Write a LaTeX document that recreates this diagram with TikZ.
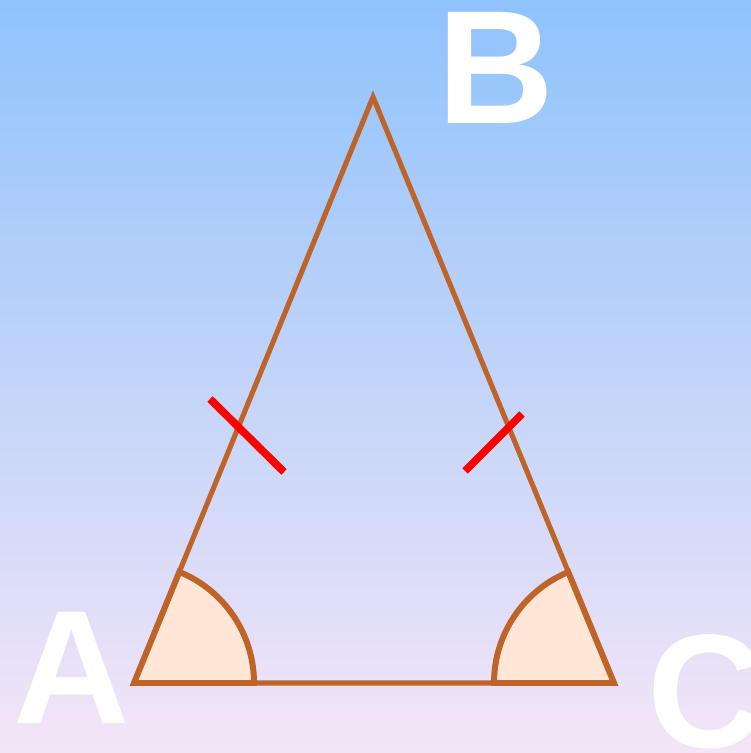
\documentclass[tikz,border=0pt]{standalone}
\usepackage{fontspec}
\usepackage{tikz}
\newfontfamily\labelfont{Liberation Sans}
\definecolor{skytop}{HTML}{8FC3FC}
\definecolor{skymid}{HTML}{C4D6F0}
\definecolor{skybottom}{HTML}{F4E5F7}
\definecolor{edgebrown}{HTML}{BE6428}
\definecolor{anglefill}{HTML}{FFE6D6}

\begin{document}
\begin{tikzpicture}[line join=miter,
    side/.style={draw=edgebrown, line width=1.45pt},
    angmark/.style={draw=edgebrown, fill=anglefill, line width=1.7pt},
    tick/.style={draw=red, line width=2.2pt},
    vertex/.style={text=white, inner sep=0pt, font=\labelfont\bfseries\fontsize{46}{46}\selectfont}]
       \shade[top color=skytop, middle color=skymid, bottom color=skybottom] (0,0) rectangle (7.51,7.53);
       \useasboundingbox (0,0) rectangle (7.51,7.53);

       \coordinate (A) at (1.34,0.70);
       \coordinate (B) at (3.73,6.56);
       \coordinate (C) at (6.14,0.70);

       % angles at the base
       \path[angmark] (A) -- ++(0:1.2) arc[start angle=0, end angle=67.8, radius=1.2] -- cycle;
       \path[angmark] (C) -- ++(180:1.2) arc[start angle=180, end angle=112.4, radius=1.2] -- cycle;

       \path[side] (A) -- (B) -- (C) -- cycle;

       % equal sides
       \coordinate (t1) at (2.10,3.54);
       \coordinate (t2) at (2.84,2.81);
       \coordinate (t3) at (4.65,2.82);
       \coordinate (t4) at (5.22,3.39);
       \draw[tick] (t1) -- (t2);
       \draw[tick] (t3) -- (t4);

       \node[vertex] (labA) at (0.72,0.85) {A};
       \node[vertex] (labB) at (4.96,6.85) {B};
       \node[vertex] (labC) at (7.06,0.61) {C};
    \end{tikzpicture}
\end{document}
